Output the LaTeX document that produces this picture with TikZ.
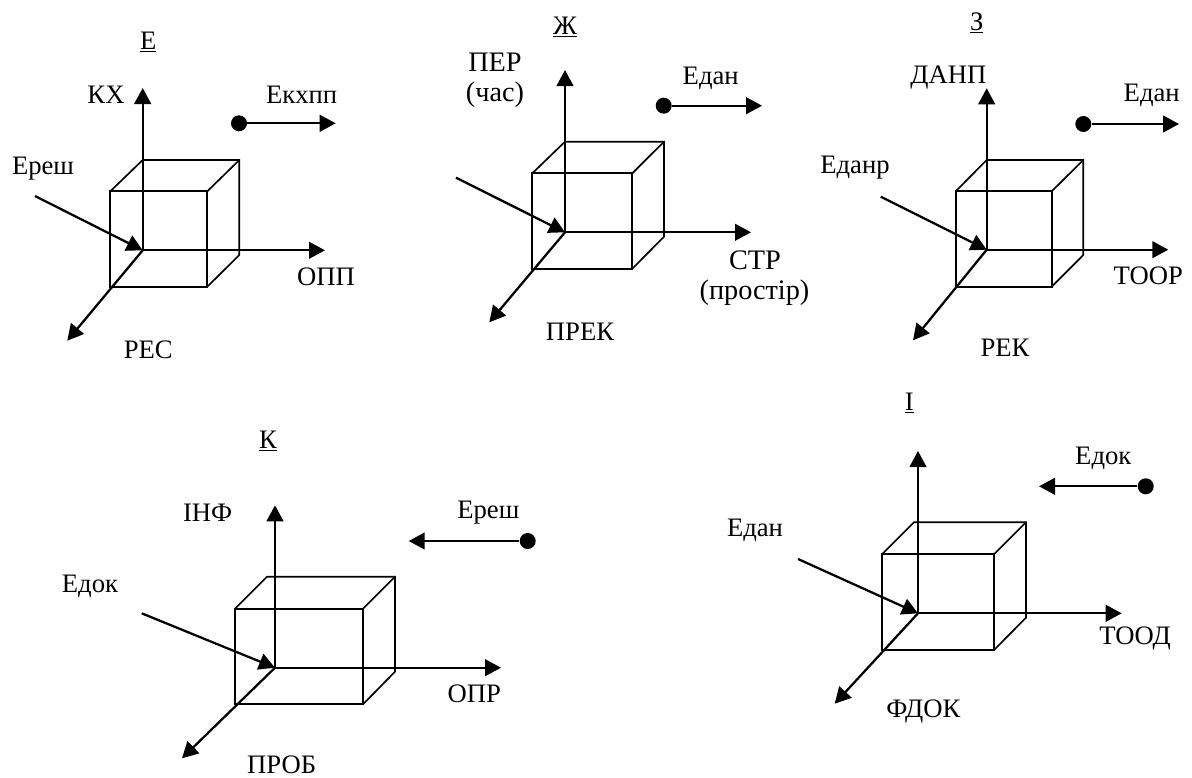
\documentclass[tikz,border=0pt]{standalone}
\usepackage{fontspec}
\setmainfont{Liberation Serif}
\usetikzlibrary{arrows.meta}

\tikzset{
  lbl/.style={inner sep=0pt,font=\fontsize{20}{22}\selectfont},
  lblbig/.style={inner sep=0pt,font=\fontsize{21.2}{23}\selectfont},
  axis/.style={line width=1.7pt,-{Triangle[length=12pt,width=12.5pt]}},
  edgeline/.style={line width=1.25pt,line join=miter},
  dotnode/.style={circle,fill=black,inner sep=0pt,minimum size=12pt}
}

% front x1 y1 x2 y2, back x1 y1 x2 y2
\newcommand{\cubebox}[9]{
  \coordinate (#1 a) at (#2,#3);
  \coordinate (#1 b) at (#4,#3);
  \coordinate (#1 c) at (#4,#5);
  \coordinate (#1 d) at (#2,#5);
  \coordinate (#1 e) at (#6,#7);
  \coordinate (#1 f) at (#8,#7);
  \coordinate (#1 g) at (#8,#9);
  \draw[edgeline] (#1 a) -- (#1 b) -- (#1 c) -- (#1 d) -- cycle;
  \draw[edgeline] (#1 a) -- (#1 e) -- (#1 f) -- (#1 g) -- (#1 c);
  \draw[edgeline] (#1 b) -- (#1 f);
}

\begin{document}
\begin{tikzpicture}[x=0.75pt,y=-0.75pt]
\useasboundingbox (0,0) rectangle (1192,778);

% panel E
\cubebox{pe}{110.3}{191.3}{207.3}{286.7}{142.7}{160}{239.3}{255}
\coordinate (pe o) at (142.7,250.3);
\coordinate (pe up) at (142.7,88);
\coordinate (pe right) at (325,250.3);
\coordinate (pe down) at (67.3,340.7);
\coordinate (pe feed) at (35,196);
\coordinate (pe end) at (335.7,123.3);
\node [dotnode] (pe dot) at (239,123.3) {};
\draw[axis] (pe o) -- (pe up);
\draw[axis] (pe o) -- (pe right);
\draw[axis] (pe o) -- (pe down);
\draw[axis] (pe feed) -- (pe o);
\draw[axis] (pe dot) -- (pe end);
\node [lbl] (pe title) at (148.3,41.7) {\underline{Е}};
\node [lbl] (pe kx) at (106,95) {КХ};
\node [lbl] (pe out) at (301.7,95) {Екхпп};
\node [lbl] (pe in) at (43,169) {Ереш};
\node [lbl] (pe opp) at (326,276.7) {ОПП};
\node [lbl] (pe res) at (148.3,349.3) {РЕС};

% panel Zh
\cubebox{pz}{532.3}{173.3}{632.3}{268.7}{565}{141.7}{664}{236.7}
\coordinate (pz o) at (565,232.3);
\coordinate (pz up) at (565,70);
\coordinate (pz right) at (751,232.3);
\coordinate (pz down) at (489.3,322.3);
\coordinate (pz feed) at (456,177.7);
\coordinate (pz end) at (762,105.7);
\node [dotnode] (pz dot) at (663.7,105.7) {};
\draw[axis] (pz o) -- (pz up);
\draw[axis] (pz o) -- (pz right);
\draw[axis] (pz o) -- (pz down);
\draw[axis] (pz feed) -- (pz o);
\draw[axis] (pz dot) -- (pz end);
\node [lbl] (pz title) at (565,26.7) {\underline{Ж}};
\node [lblbig] (pz per) at (495,62) {ПЕР};
\node [lblbig] (pz chas) at (495,95) {(час)};
\node [lbl] (pz out) at (710.7,78) {Едан};
\node [lblbig] (pz str) at (755,260) {СТР};
\node [lblbig] (pz prost) at (754.5,293) {(простір)};
\node [lbl] (pz prek) at (580,331.7) {ПРЕК};

% panel Z
\cubebox{pd}{955.7}{191.3}{1051.7}{286.7}{986.7}{160}{1083.3}{255}
\coordinate (pd o) at (986.7,249.7);
\coordinate (pd up) at (986.7,88.3);
\coordinate (pd right) at (1168.3,249.7);
\coordinate (pd down) at (913,340.3);
\coordinate (pd feed) at (880.7,196.7);
\coordinate (pd end) at (1179,124);
\node [dotnode] (pd dot) at (1083.3,124) {};
\draw[axis] (pd o) -- (pd up);
\draw[axis] (pd o) -- (pd right);
\draw[axis] (pd o) -- (pd down);
\draw[axis] (pd feed) -- (pd o);
\draw[axis] (pd dot) -- (pd end);
\node [lbl] (pd title) at (976.7,23) {\underline{З}};
\node [lbl] (pd danp) at (948.3,78) {ДАНП};
\node [lbl] (pd out) at (1151.7,95) {Едан};
\node [lbl] (pd in) at (855,168) {Еданр};
\node [lbl] (pd toor) at (1148.3,276) {ТООР};
\node [lbl] (pd rek) at (1005,348) {РЕК};

% panel K
\cubebox{pk}{235}{608.7}{363}{704.3}{267}{576.7}{395}{671.7}
\coordinate (pk o) at (275,667.7);
\coordinate (pk up) at (275,505.3);
\coordinate (pk right) at (501,667.7);
\coordinate (pk down) at (182,758.3);
\coordinate (pk feed) at (141.7,613.3);
\coordinate (pk end) at (408.7,541);
\node [dotnode] (pk dot) at (527.7,541) {};
\draw[axis] (pk o) -- (pk up);
\draw[axis] (pk o) -- (pk right);
\draw[axis] (pk o) -- (pk down);
\draw[axis] (pk feed) -- (pk o);
\draw[axis] (pk dot) -- (pk end);
\node [lbl] (pk title) at (268,440.7) {\underline{К}};
\node [lbl] (pk inf) at (207.7,512.3) {ІНФ};
\node [lbl] (pk out) at (488.3,512.3) {Ереш};
\node [lbl] (pk in) at (90,586) {Едок};
\node [lbl] (pk opr) at (474.3,693.3) {ОПР};
\node [lbl] (pk prob) at (281.7,765) {ПРОБ};

% panel I
\cubebox{pi}{882}{554.3}{994}{650}{914}{522.3}{1026}{617.7}
\coordinate (pi o) at (918,613.3);
\coordinate (pi up) at (918,451);
\coordinate (pi right) at (1121.7,613.3);
\coordinate (pi down) at (834.7,703.7);
\coordinate (pi feed) at (798,559);
\coordinate (pi end) at (1039,486.3);
\node [dotnode] (pi dot) at (1145.7,486.3) {};
\draw[axis] (pi o) -- (pi up);
\draw[axis] (pi o) -- (pi right);
\draw[axis] (pi o) -- (pi down);
\draw[axis] (pi feed) -- (pi o);
\draw[axis] (pi dot) -- (pi end);
\node [lbl] (pi title) at (909.3,403.3) {\underline{І}};
\node [lbl] (pi out) at (1103.3,458.3) {Едок};
\node [lbl] (pi in) at (755,530) {Едан};
\node [lbl] (pi tood) at (1135,639) {ТООД};
\node [lbl] (pi fdok) at (923.3,711.7) {ФДОК};
\end{tikzpicture}
\end{document}
